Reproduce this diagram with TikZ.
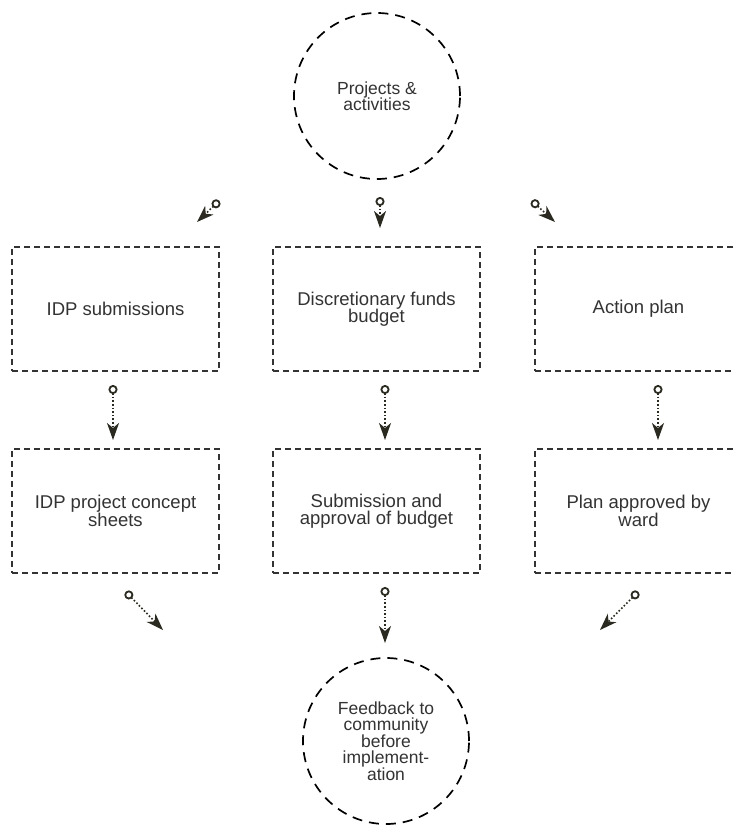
\documentclass[tikz,border=0pt]{standalone}
\usepackage{fontspec}
\setmainfont{Liberation Sans}
\usetikzlibrary{arrows.meta}
\definecolor{arr}{HTML}{2B2A20}
\definecolor{txt}{HTML}{333333}
\tikzset{
  x=1pt, y=-1pt,
  bigcirc/.style={circle, draw=black, line width=1.7pt, dash pattern=on 10pt off 7pt,
    minimum size=166pt, inner sep=0pt, align=center, text=txt,
    font=\fontsize{17.5}{16.5}\selectfont},
  stepbox/.style={rectangle, draw=txt, line width=1.1pt, dash pattern=on 6pt off 4pt,
    minimum width=207pt, minimum height=124pt, inner sep=0pt, align=center, text=txt,
    font=\fontsize{18.5}{17.5}\selectfont},
  flow/.style={draw=arr, line width=1.6pt, dotted,
    {Circle[open,length=9pt,width=9pt,line width=1.8pt,sep=1pt]}-{Stealth[length=17pt,width=12pt,inset=5pt,sep=0pt]}}
}
\begin{document}
\begin{tikzpicture}
\clip (0,0) rectangle (734,828);
\fill[white] (0,0) rectangle (734,828);

\node[bigcirc] (top) at (377,96) {Projects \&\\activities};

\node[stepbox] (idp) at (115.5,309) {IDP submissions};
\node[stepbox] (disc) at (376.5,309) {Discretionary funds\\budget};
\node[stepbox] (act) at (638.5,309) {Action plan};

\node[stepbox] (sheets) at (115.5,511) {IDP project concept\\sheets};
\node[stepbox] (appr) at (376.5,511) {Submission and\\approval of budget};
\node[stepbox] (ward) at (638.5,511) {Plan approved by\\ward};

\node[bigcirc] (fb) at (386,741) {Feedback to\\community\\before\\implement-\\ation};

% top arrows
\coordinate (a1s) at (220,200); \coordinate (a1e) at (197,222);
\coordinate (a2s) at (380,196); \coordinate (a2e) at (380,228);
\coordinate (a3s) at (531,200); \coordinate (a3e) at (555,222);
\draw[flow] (a1s) -- (a1e);
\draw[flow] (a2s) -- (a2e);
\draw[flow] (a3s) -- (a3e);

% middle arrows
\coordinate (b1s) at (113,384); \coordinate (b1e) at (113,440);
\coordinate (b2s) at (385,384); \coordinate (b2e) at (385,440);
\coordinate (b3s) at (658,384); \coordinate (b3e) at (658,440);
\draw[flow] (b1s) -- (b1e);
\draw[flow] (b2s) -- (b2e);
\draw[flow] (b3s) -- (b3e);

% bottom arrows
\coordinate (c1s) at (125,591); \coordinate (c1e) at (163,630);
\coordinate (c2s) at (385,586); \coordinate (c2e) at (385,643);
\coordinate (c3s) at (639,591); \coordinate (c3e) at (600,630);
\draw[flow] (c1s) -- (c1e);
\draw[flow] (c2s) -- (c2e);
\draw[flow] (c3s) -- (c3e);
\end{tikzpicture}
\end{document}
